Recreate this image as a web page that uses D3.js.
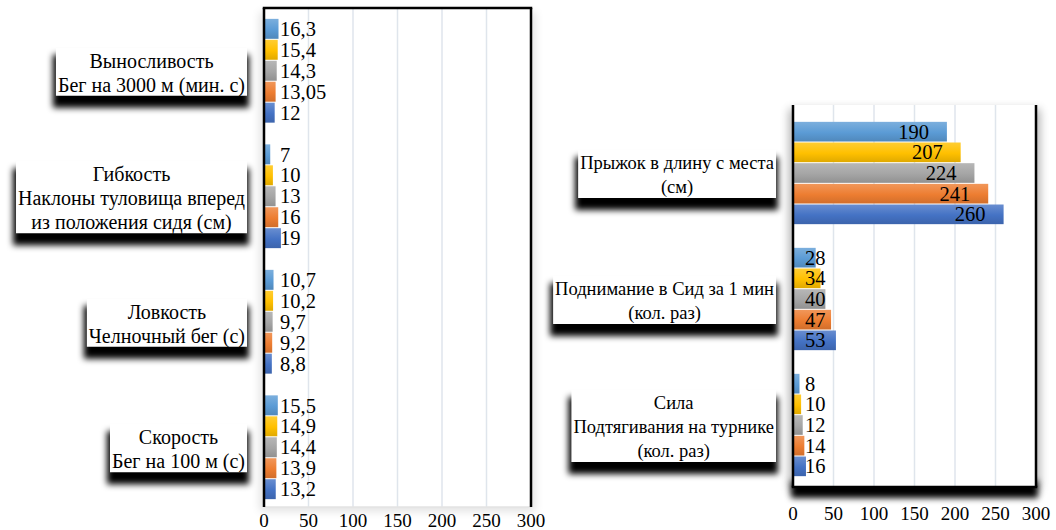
<!DOCTYPE html>
<html>
<head>
<meta charset="utf-8">
<script src="https://cdn.jsdelivr.net/npm/d3@7"></script>
<style>
  body { margin: 0; background: #fff; }
  svg { display: block; font-family: "Liberation Serif", "Times New Roman", serif; }
</style>
</head>
<body>
<svg id="chart"></svg>
<script>
// series colours, top bar of each group first
const seriesColors = ["#5B9BD5", "#FFC000", "#A5A5A5", "#ED7D31", "#4472C4"];

// left panel
const leftCategories = [
  ["Выносливость", "Бег на 3000 м (мин. с)"],
  ["Гибкость", "Наклоны туловища вперед", "из положения сидя (см)"],
  ["Ловкость", "Челночный бег (с)"],
  ["Скорость", "Бег на 100 м (с)"]
];
const leftValues = [
  [16.3, 15.4, 14.3, 13.05, 12],
  [7, 10, 13, 16, 19],
  [10.7, 10.2, 9.7, 9.2, 8.8],
  [15.5, 14.9, 14.4, 13.9, 13.2]
];

// right panel
const rightCategories = [
  ["Прыжок в длину с места", "(см)"],
  ["Поднимание в Сид за 1 мин", "(кол. раз)"],
  ["Сила", "Подтягивания на турнике", "(кол. раз)"]
];
const rightValues = [
  [190, 207, 224, 241, 260],
  [28, 34, 40, 47, 53],
  [8, 10, 12, 14, 16]
];

const xTicks = [0, 50, 100, 150, 200, 250, 300];

const width = 1056, height = 530;
const fmt = v => String(v).replace(".", ",");

const svg = d3.select("#chart")
  .attr("width", width)
  .attr("height", height)
  .attr("viewBox", [0, 0, width, height]);

const defs = svg.append("defs");
defs.append("filter").attr("id", "blur3")
  .attr("x", "-20%").attr("y", "-50%").attr("width", "140%").attr("height", "200%")
  .append("feGaussianBlur").attr("stdDeviation", 3);
defs.append("filter").attr("id", "blur5")
  .attr("x", "-20%").attr("y", "-50%").attr("width", "140%").attr("height", "200%")
  .append("feGaussianBlur").attr("stdDeviation", 5);

// gradient fills like Excel's preset
seriesColors.forEach((c, i) => {
  const lg = defs.append("linearGradient").attr("id", "grad" + i)
    .attr("x1", 0).attr("y1", 0).attr("x2", 0).attr("y2", 1);
  lg.append("stop").attr("offset", "0%").attr("stop-color", d3.interpolateRgb(c, "#fff")(0.2));
  lg.append("stop").attr("offset", "55%").attr("stop-color", c);
  lg.append("stop").attr("offset", "100%").attr("stop-color", d3.interpolateRgb(c, "#000")(0.12));
});

function barPanel(cats, vals, o) {
  const x = d3.scaleLinear().domain([0, 300]).range([o.x0, o.x1]);
  const y = d3.scaleBand()
    .domain(d3.range(cats.length))
    .range([o.y0, o.y1])
    .paddingInner(o.pad)
    .paddingOuter(o.pad / 2);
  const ys = d3.scaleBand().domain(d3.range(seriesColors.length)).range([0, y.bandwidth()]);

  const g = svg.append("g");

  // plot shadow
  if (o.sideGlow) {
    g.append("rect")
      .attr("x", o.x0 - 4).attr("y", o.frameTop + 4)
      .attr("width", o.x1 - o.x0 + 8).attr("height", o.frameBottom - o.frameTop)
      .attr("fill", "#000").attr("opacity", o.sideGlow)
      .attr("filter", "url(#blur5)");
  }
  if (o.bottomShadow) {
    g.append("rect")
      .attr("x", o.x0 - 2).attr("y", o.frameBottom - 6)
      .attr("width", o.x1 - o.x0 + 4).attr("height", 17)
      .attr("fill", "#000").attr("filter", "url(#blur3)");
  }
  g.append("rect")
    .attr("x", o.x0).attr("y", o.frameTop)
    .attr("width", o.x1 - o.x0).attr("height", o.frameBottom - o.frameTop)
    .attr("fill", "#fff");

  // gridlines
  g.append("g")
    .selectAll("line")
    .data(xTicks.slice(1, -1))
    .join("line")
    .attr("x1", x).attr("x2", x)
    .attr("y1", o.frameTop).attr("y2", o.frameBottom)
    .attr("stroke", "#dfe5ec")
    .attr("stroke-width", 1.5);

  if (!o.bottomShadow) {
    g.append("line")
      .attr("x1", o.x0).attr("x2", o.x1)
      .attr("y1", o.frameBottom).attr("y2", o.frameBottom)
      .attr("stroke", "#e3e3e3").attr("stroke-width", 1.5);
  }

  // bars
  const grp = g.append("g")
    .selectAll("g")
    .data(vals)
    .join("g")
    .attr("transform", (d, i) => `translate(0,${y(i)})`);

  grp.selectAll("rect")
    .data(d => d)
    .join("rect")
    .attr("x", x(0))
    .attr("y", (d, j) => ys(j) + 0.5)
    .attr("width", d => x(d) - x(0))
    .attr("height", ys.bandwidth() - 1)
    .attr("fill", (d, j) => `url(#grad${j})`);

  grp.selectAll("text")
    .data((d, i) => d.map(v => ({ v, i })))
    .join("text")
    .attr("x", d => o.labelAt(d, x).x)
    .attr("text-anchor", d => o.labelAt(d, x).anchor)
    .attr("y", (d, j) => ys(j) + ys.bandwidth() / 2)
    .attr("dy", "0.35em")
    .attr("font-size", 20.5)
    .attr("fill", "#000")
    .text(d => fmt(d.v));

  // frame
  const frame = g.append("g").attr("stroke", "#000").attr("stroke-width", 2.5);
  frame.append("line").attr("x1", o.x0).attr("x2", o.x0).attr("y1", o.frameTop).attr("y2", o.frameBottom);
  frame.append("line").attr("x1", o.x1).attr("x2", o.x1).attr("y1", o.frameTop).attr("y2", o.frameBottom);
  if (o.topBorder) {
    frame.append("line").attr("x1", o.x0 - 1.25).attr("x2", o.x1 + 1.25).attr("y1", o.frameTop).attr("y2", o.frameTop);
  } else {
    frame.append("line").attr("x1", o.x0 - 1.25).attr("x2", o.x1 + 1.25).attr("y1", o.frameBottom).attr("y2", o.frameBottom);
  }

  // value axis labels
  g.append("g")
    .attr("text-anchor", "middle")
    .selectAll("text")
    .data(xTicks)
    .join("text")
    .attr("x", x)
    .attr("y", o.tickY)
    .attr("dy", "0.35em")
    .attr("font-size", 19)
    .text(d => d);

  // category labels in shadowed boxes
  const lineH = 24;
  const cat = g.append("g")
    .selectAll("g")
    .data(cats)
    .join("g")
    .attr("transform", (d, i) => `translate(${o.x0 - 17},${y(i) + y.bandwidth() / 2 + 2})`);

  cat.each(function (lines) {
    const c = d3.select(this);
    const shadow = c.append("rect");
    const box = c.append("rect");
    const n = lines.length;
    const t = c.append("g").attr("text-anchor", "middle").attr("font-size", o.catSize);
    const texts = t.selectAll("text")
      .data(lines)
      .join("text")
      .attr("y", (d, k) => (k - (n - 1) / 2) * lineH)
      .attr("dy", "0.35em")
      .text(d => d);
    const w = d3.max(texts.nodes(), nd => nd.getComputedTextLength()) + 4;
    texts.attr("x", -w / 2);
    const top = -(n - 1) / 2 * lineH - 13;
    const bottom = (n - 1) / 2 * lineH + 11;
    box.attr("x", -w).attr("y", top).attr("width", w).attr("height", bottom - top).attr("fill", "#fff");
    shadow.attr("x", -w - 3).attr("y", top + 7).attr("width", w + 5).attr("height", bottom - top + 5)
      .attr("fill", "#000").attr("filter", "url(#blur3)");
  });
}

barPanel(leftCategories, leftValues, {
  x0: 264, x1: 531, y0: 8, y1: 510, pad: 0.165,
  frameTop: 8, frameBottom: 507, tickY: 520, catSize: 20,
  topBorder: true, sideGlow: 0.12, bottomShadow: false,
  labelAt: (d, x) => ({ x: x(0) + 16, anchor: "start" })
});

barPanel(rightCategories, rightValues, {
  x0: 793, x1: 1036, y0: 110, y1: 488, pad: 0.18,
  frameTop: 105, frameBottom: 487, tickY: 513, catSize: 18.5,
  topBorder: false, sideGlow: 0.3, bottomShadow: true,
  labelAt: (d, x) => d.i === 0
    ? { x: x(d.v) - 18, anchor: "end" }
    : { x: x(0) + 12, anchor: "start" }
});
</script>
</body>
</html>
